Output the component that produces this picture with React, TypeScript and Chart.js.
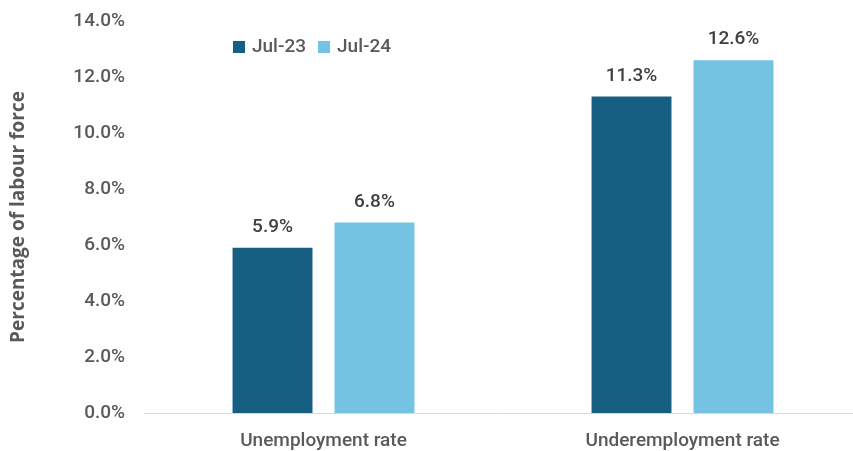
import React, { useEffect, useRef } from "react";
import { Chart, registerables } from "chart.js";

Chart.register(...registerables);

const categories = ["Unemployment rate", "Underemployment rate"];
const seriesNames = ["Jul-23", "Jul-24"];
const jul23 = [5.9, 11.3];
const jul24 = [6.8, 12.6];
const colors = ["#175f82", "#74c3e3"];
const yTitle = "Percentage of labour force";

const FONT = "Roboto, 'Open Sans', sans-serif";
const TEXT = "#595959";

const valueLabels = {
  id: "valueLabels",
  afterDatasetsDraw(chart: any) {
    const ctx = chart.ctx;
    ctx.save();
    ctx.font = `500 19px ${FONT}`;
    ctx.fillStyle = "#404040";
    ctx.textAlign = "center";
    ctx.textBaseline = "bottom";
    chart.data.datasets.forEach((ds: any, i: number) => {
      const meta = chart.getDatasetMeta(i);
      meta.data.forEach((el: any, j: number) => {
        ctx.fillText(ds.data[j].toFixed(1) + "%", el.x, el.y - 11);
      });
    });
    ctx.restore();
  },
};

const customLegend = {
  id: "customLegend",
  afterDraw(chart: any) {
    const ctx = chart.ctx;
    ctx.save();
    ctx.font = `500 19px ${FONT}`;
    ctx.textBaseline = "middle";
    ctx.textAlign = "left";
    let x = 233;
    const y = 47;
    chart.data.datasets.forEach((ds: any) => {
      ctx.fillStyle = ds.backgroundColor;
      ctx.fillRect(x, y - 6, 12, 12);
      ctx.fillStyle = TEXT;
      ctx.fillText(ds.label, x + 19, y);
      x += 19 + ctx.measureText(ds.label).width + 12;
    });
    ctx.restore();
  },
};

export default function App() {
  const ref = useRef<HTMLCanvasElement>(null);
  useEffect(() => {
    const chart = new Chart(ref.current!, {
      type: "bar",
      data: {
        labels: categories,
        datasets: [
          { label: seriesNames[0], data: jul23, backgroundColor: colors[0] },
          { label: seriesNames[1], data: jul24, backgroundColor: colors[1] },
        ],
      },
      options: {
        animation: false,
        responsive: false,
        maintainAspectRatio: false,
        layout: { padding: { top: 0, left: 0, right: 0, bottom: 0 } },
        datasets: { bar: { categoryPercentage: 0.568, barPercentage: 0.784 } } as any,
        plugins: { legend: { display: false }, tooltip: { enabled: false } },
        scales: {
          x: {
            grid: { display: false },
            border: { display: true, color: "#d9d9d9", width: 1 },
            ticks: { color: TEXT, font: { family: FONT, size: 19, weight: 500 as any }, padding: 9 },
            afterFit(scale: any) {
              scale.height = 38;
            },
          },
          y: {
            min: 0,
            max: 14,
            grid: { display: false, drawTicks: false },
            border: { display: false },
            ticks: {
              stepSize: 2,
              color: TEXT,
              font: { family: FONT, size: 19, weight: 500 as any },
              padding: 19,
              callback: (v: any) => Number(v).toFixed(1) + "%",
            },
            title: {
              display: true,
              text: yTitle,
              color: TEXT,
              font: { family: "'Open Sans', sans-serif", size: 19, weight: "bold" },
              padding: { top: 7, bottom: 0 },
            },
            afterFit(scale: any) {
              scale.width = 144;
              scale.paddingTop = 21;
            },
          },
        },
      },
      plugins: [valueLabels, customLegend],
    });
    return () => chart.destroy();
  }, []);
  return (
    <div style={{ position: "fixed", left: 0, top: 0, width: 862, height: 451, background: "#fff" }}>
      <canvas ref={ref} width={862} height={451} />
    </div>
  );
}
